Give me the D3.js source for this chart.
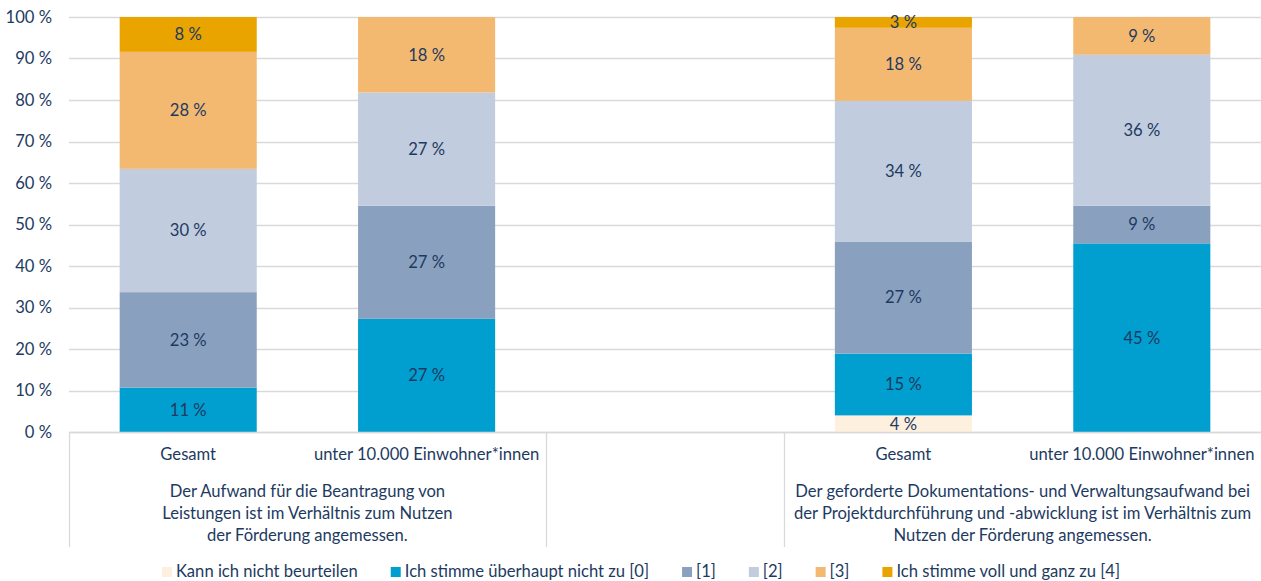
<!DOCTYPE html>
<html>
<head>
<meta charset="utf-8">
<script src="https://cdn.jsdelivr.net/npm/d3@7"></script>
<style>
  body { margin: 0; background: #fff; }
  svg { display: block; font-family: Lato, "Open Sans", sans-serif; }
</style>
</head>
<body>
<svg id="chart" width="1261" height="581"></svg>
<script>

// slots along the x axis, the middle one stays empty
let slots = ['a1', 'a2', 'gap', 'b1', 'b2'];
let barSlots = ['a1', 'a2', 'b1', 'b2'];
let categoryLabels = ['Gesamt', 'unter 10.000 Einwohner*innen', 'Gesamt', 'unter 10.000 Einwohner*innen'];

let groupLabels = [
	['Der Aufwand für die Beantragung von', 'Leistungen ist im Verhältnis zum Nutzen', 'der Förderung angemessen.'],
	['Der geforderte Dokumentations- und Verwaltungsaufwand bei', 'der Projektdurchführung und -abwicklung ist im Verhältnis zum', 'Nutzen der Förderung angemessen.']
];
let groupSlots = [['a1', 'a2'], ['b1', 'b2']];

let seriesNames = ['Kann ich nicht beurteilen', 'Ich stimme überhaupt nicht zu [0]', '[1]', '[2]', '[3]', 'Ich stimme voll und ganz zu [4]'];
let seriesColors = ['#fdf0de', '#009fcf', '#89a1bf', '#c1ccde', '#f4b971', '#e9a400'];

// percent per bar (a1, a2, b1, b2)
let kannNicht = [0, 0, 4.0, 0];
let stufe0 = [10.7, 27.27, 14.9, 45.45];
let stufe1 = [23.0, 27.27, 27.0, 9.09];
let stufe2 = [29.7, 27.27, 33.9, 36.36];
let stufe3 = [28.2, 18.18, 17.6, 9.09];
let stufe4 = [8.4, 0, 2.6, 0];

let yTicks = [0, 10, 20, 30, 40, 50, 60, 70, 80, 90, 100];

let allSeries = [kannNicht, stufe0, stufe1, stufe2, stufe3, stufe4];

let rows = barSlots.map(function(slot, i) {
	let row = {slot: slot};
	seriesNames.forEach(function(name, j) { row[name] = allSeries[j][i]; });
	return row;
});

let textColor = '#1d3a62';
let gridColor = '#d9d9d9';
let fontSize = '16.6px';

let svg = d3.select('#chart');
let margin = {left: 69, right: 0, top: 17, bottom: 149};
let width = 1261;
let height = 581;

let x = d3.scaleBand()
.domain(slots)
.range([margin.left, width - margin.right])
.paddingInner(0.425)
.paddingOuter(0.2125);

let y = d3.scaleLinear()
.domain([0, 100])
.range([height - margin.bottom, margin.top]);

// gridlines
svg.append('g')
.selectAll('line')
.data(yTicks)
.join('line')
.attr('x1', margin.left)
.attr('x2', width)
.attr('y1', d => Math.round(y(d)) + 0.5)
.attr('y2', d => Math.round(y(d)) + 0.5)
.attr('stroke', gridColor)
.attr('stroke-width', 1.3);

// y tick labels
let yAxis = svg.append('g')
.attr('transform', `translate(${margin.left},0)`)
.call(d3.axisLeft(y).tickValues(yTicks).tickSize(0).tickPadding(17).tickFormat(d => d + ' %'));
yAxis.select('.domain').remove();
yAxis.selectAll('text')
.attr('fill', textColor)
.style('font-size', fontSize)
.style('font-family', 'Lato, "Open Sans", sans-serif');

// bars
let stack = d3.stack().keys(seriesNames);
let stacked = stack(rows);

let layers = svg.append('g')
.selectAll('g')
.data(stacked)
.join('g')
.attr('fill', (d, i) => seriesColors[i]);

layers.selectAll('rect')
.data(d => d.filter(s => s[1] - s[0] > 0))
.join('rect')
.attr('x', d => x(d.data.slot))
.attr('width', x.bandwidth())
.attr('y', d => y(d[1]))
.attr('height', d => y(d[0]) - y(d[1]));

layers.selectAll('text')
.data(d => d.filter(s => s[1] - s[0] > 0))
.join('text')
.attr('x', d => x(d.data.slot) + x.bandwidth() / 2)
.attr('y', d => (y(d[0]) + y(d[1])) / 2)
.attr('dy', '0.35em')
.attr('text-anchor', 'middle')
.attr('fill', textColor)
.style('font-size', fontSize)
.text(d => Math.round(d[1] - d[0]) + ' %');

// category axis with group separators
let baseY = y(0);
svg.append('line')
.attr('x1', margin.left).attr('x2', width)
.attr('y1', Math.round(baseY) + 0.5).attr('y2', Math.round(baseY) + 0.5)
.attr('stroke', gridColor).attr('stroke-width', 1.3);

let step = x.step();
let separators = [margin.left, margin.left + 2 * step, margin.left + 3 * step];
svg.append('g')
.selectAll('line')
.data(separators)
.join('line')
.attr('x1', d => Math.round(d) + 0.5)
.attr('x2', d => Math.round(d) + 0.5)
.attr('y1', baseY)
.attr('y2', baseY + 115)
.attr('stroke', gridColor)
.attr('stroke-width', 1.3);

svg.append('g')
.selectAll('text')
.data(barSlots)
.join('text')
.attr('x', d => x(d) + x.bandwidth() / 2)
.attr('y', baseY + 28)
.attr('text-anchor', 'middle')
.attr('fill', textColor)
.style('font-size', fontSize)
.text((d, i) => categoryLabels[i]);

groupLabels.forEach(function(lines, g) {
	let cx = (x(groupSlots[g][0]) + x(groupSlots[g][1]) + x.bandwidth()) / 2;
	svg.append('text')
	.attr('text-anchor', 'middle')
	.attr('fill', textColor)
	.style('font-size', fontSize)
	.selectAll('tspan')
	.data(lines)
	.join('tspan')
	.attr('x', cx)
	.attr('y', (d, i) => baseY + 65 + i * 22)
	.text(d => d);
});

// legend
let legendGap = 33;
let legend = svg.append('g');
let items = legend.selectAll('g')
.data(seriesNames)
.join('g');
items.append('rect')
.attr('width', 10).attr('height', 10)
.attr('y', -10)
.attr('fill', (d, i) => seriesColors[i]);
items.append('text')
.attr('x', 14)
.attr('fill', textColor)
.style('font-size', fontSize)
.text(d => d);

let offset = 0;
let offsets = [];
items.each(function() {
	offsets.push(offset);
	offset += 14 + d3.select(this).select('text').node().getComputedTextLength() + legendGap;
});
let total = offset - legendGap;
let startX = 641 - total / 2;
items.attr('transform', (d, i) => `translate(${startX + offsets[i]},${height - 4})`);

</script>
</body>
</html>
